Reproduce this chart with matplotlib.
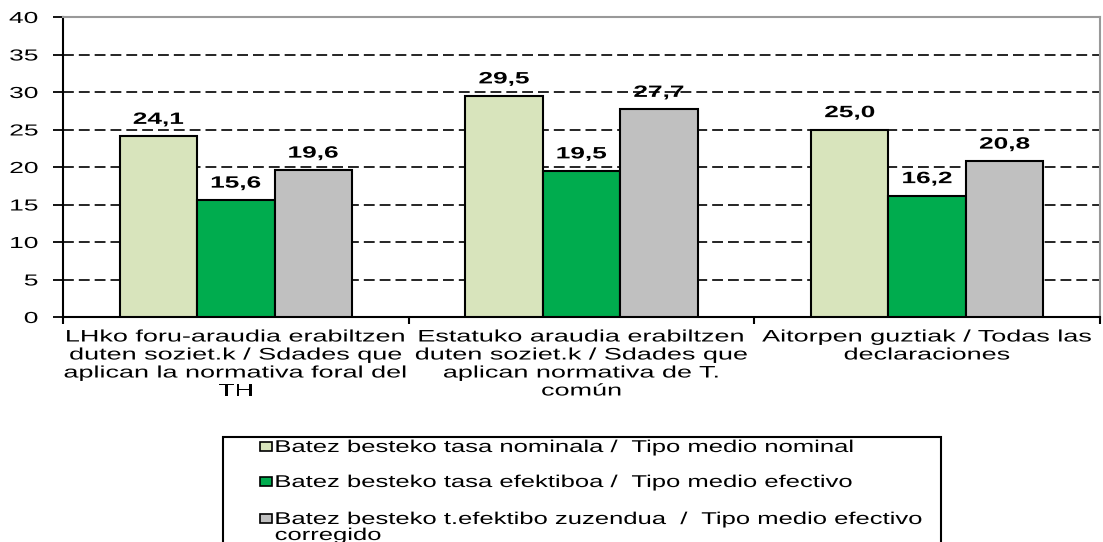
import numpy as np
import matplotlib.pyplot as plt
from matplotlib.ticker import MultipleLocator
from matplotlib.patheffects import AbstractPathEffect
from matplotlib.transforms import Affine2D
from matplotlib.patches import Rectangle

categories = ["LHko foru-araudia erabiltzen\nduten soziet.k / Sdades que\naplican la normativa foral del\nTH",
              "Estatuko araudia erabiltzen\nduten soziet.k / Sdades que\naplican normativa de T.\ncomún",
              "Aitorpen guztiak / Todas las\ndeclaraciones"]
nominal = [24.1, 29.5, 25.0]
efectivo = [15.6, 19.5, 16.2]
corregido = [19.6, 27.7, 20.8]
series_labels = ["Batez besteko tasa nominala /  Tipo medio nominal",
                 "Batez besteko tasa efektiboa /  Tipo medio efectivo",
                 "Batez besteko t.efektibo zuzendua  /  Tipo medio efectivo\ncorregido"]
colors = ["#d8e4bc", "#00ac4e", "#c0c0c0"]

plt.rcParams['font.family'] = ['Liberation Sans', 'DejaVu Sans']


class Stretch(AbstractPathEffect):
    """Stretch text horizontally (the original chart has wide text)."""
    def __init__(self, sx, anchor='center'):
        super().__init__()
        self.sx = sx
        self.anchor = anchor

    def draw_path(self, renderer, gc, tpath, affine, rgbFace=None):
        ext = tpath.get_extents(affine)
        if self.anchor == 'left':
            cx = ext.x0
        elif self.anchor == 'right':
            cx = ext.x1
        else:
            cx = (ext.x0 + ext.x1) / 2.
        t = affine + Affine2D().translate(-cx, 0).scale(self.sx, 1).translate(cx, 0)
        renderer.draw_path(gc, tpath, t, rgbFace)


W, H = 1103, 542
def fx(x):
    return x / W
def fy(y):
    return 1 - y / H

fig = plt.figure(figsize=(W / 100, H / 100), dpi=100)
ax = fig.add_axes([fx(63), fy(317), fx(1100) - fx(63), fy(17) - fy(317)])

ind = np.arange(len(categories))
width = 0.224
for k, vals in enumerate([nominal, efectivo, corregido]):
    r = ax.bar(ind + (k - 1) * width, vals, width, color=colors[k],
               edgecolor='black', linewidth=1.5, zorder=3)
    for rect, v in zip(r, vals):
        ax.text(rect.get_x() + rect.get_width() / 2., v + 1.25,
                format(v, '.1f').replace('.', ','),
                ha='center', va='bottom', fontsize=11.8, fontweight='bold',
                path_effects=[Stretch(1.6)])

ax.set_xlim(-0.5, 2.5)
ax.set_ylim(0, 40)
ax.yaxis.set_major_locator(MultipleLocator(5))
ax.yaxis.grid(True, linestyle=(0, (6.5, 3)), color='black', linewidth=1.2, zorder=0)
ax.set_axisbelow(True)
ax.tick_params(axis='y', labelsize=11.5, length=7, width=1.3, direction='out', pad=11)
for lbl in ax.get_yticklabels():
    lbl.set_path_effects([Stretch(1.65, 'right')])

ax.set_xticks([-0.5, 0.5, 1.5, 2.5])
ax.set_xticklabels([])
ax.set_xticks(ind, minor=True)
ax.set_xticklabels(categories, minor=True, fontsize=12, linespacing=1.25)
ax.tick_params(axis='x', which='major', length=5, width=1.5, direction='out')
ax.tick_params(axis='x', which='minor', length=0, pad=9)
for lbl in ax.get_xticklabels(minor=True):
    lbl.set_path_effects([Stretch(1.62)])

ax.spines['left'].set_linewidth(1.5)
ax.spines['bottom'].set_linewidth(1.5)
for s in ['top', 'right']:
    ax.spines[s].set_color('#999999')
    ax.spines[s].set_linewidth(1.5)

# legend drawn by hand so the stretched text fits the frame
frame = Rectangle((fx(223), fy(560)), fx(941) - fx(223), fy(437) - fy(560),
                  transform=fig.transFigure, facecolor='white', edgecolor='black',
                  linewidth=1.5, clip_on=False)
fig.add_artist(frame)
row_base = [452, 487, 524]
for k in range(3):
    fig.add_artist(Rectangle((fx(260), fy(row_base[k] - 1)), fx(272) - fx(260), fy(row_base[k] - 10) - fy(row_base[k] - 1),
                             transform=fig.transFigure, facecolor=colors[k],
                             edgecolor='black', linewidth=1.2))
    for i, line in enumerate(series_labels[k].split("\n")):
        fig.text(fx(275), fy(row_base[k] + 16 * i), line, fontsize=12.3,
                 ha='left', va='baseline',
                 path_effects=[Stretch(1.5, 'left')])

plt.savefig("out.png", dpi=100)
